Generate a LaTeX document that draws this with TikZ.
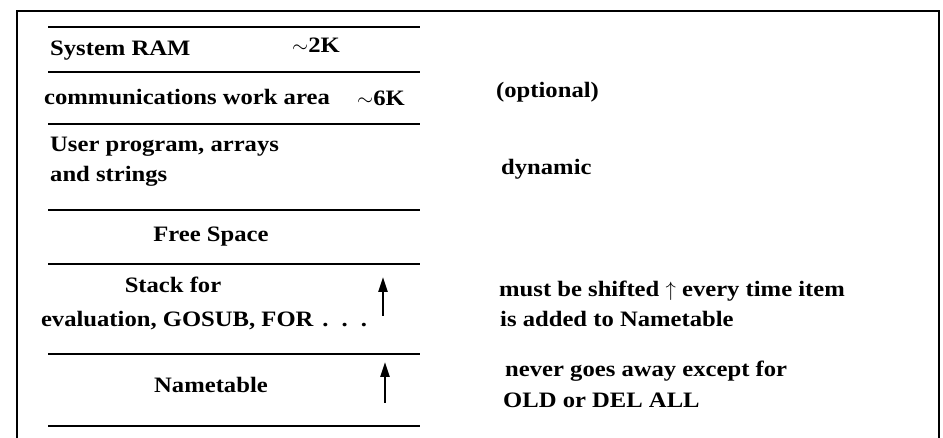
\documentclass[tikz,border=0pt]{standalone}
\usepackage{fontspec}
\setmainfont{Liberation Serif}[FakeStretch=1.12]
\usepackage{tikz}
\usetikzlibrary{positioning,arrows.meta}

\begin{document}
\begin{tikzpicture}[
  x=1pt,y=-1pt,
  every node/.style={font=\fontsize{22}{30}\selectfont\bfseries,inner sep=0pt},
  lbl/.style={anchor=base west},
  mid/.style={anchor=base},
  note/.style={anchor=base west,align=left},
  rule/.style={line width=2pt},
  frame/.style={line width=2pt},
  arr/.style={-{Triangle[length=15pt,width=9pt]},line width=2.5pt}
]
  \useasboundingbox (0,0) rectangle (943,438);

  % outer frame, open at the bottom
  \draw[frame] (17,438) |- (939,11) -- (939,438);

  % memory map rules
  \foreach \y in {27,72,124,210,264,354,426}
    \draw[rule] (48,\y) -- (420,\y);

  % left column
  \node[lbl] (sysram) at (50,56) {System RAM};
  \node[lbl] (twok) at (292,53) {$\sim$2K};
  \node[lbl] (comm) at (44,105) {communications work area};
  \node[lbl] (sixk) at (357,106) {$\sim$6K};
  \node[lbl] (user) at (50,152) {User program, arrays};
  \node[lbl] (strings) at (50,182) {and strings};
  \node[mid] (free) at (211,242) {Free Space};
  \node[mid] (stack) at (173,293) {Stack for};
  \node[mid] (evalx) at (204,327) {evaluation, GOSUB, FOR\hspace{9pt}.\hspace{13pt}.\hspace{13pt}.};
  \node[mid] (names) at (211,393) {Nametable};

  % growth arrows
  \coordinate (s0) at (383,316);
  \coordinate (s1) at (383,277);
  \coordinate (n0) at (385,403);
  \coordinate (n1) at (385,362);
  \draw[arr] (s0) -- (s1);
  \draw[arr] (n0) -- (n1);

  % right column
  \node[note] (opt) at (496,98) {(optional)};
  \node[note] (dyn) at (501,175) {dynamic};
  \node[note] (shift) at (499,297) {must be shifted $\uparrow$ every time item};
  \node[note] (added) at (500,327) {is added to Nametable};
  \node[note] (never) at (505,377) {never goes away except for};
  \node[note] (oldd) at (503,407) {OLD or DEL ALL};
\end{tikzpicture}
\end{document}
